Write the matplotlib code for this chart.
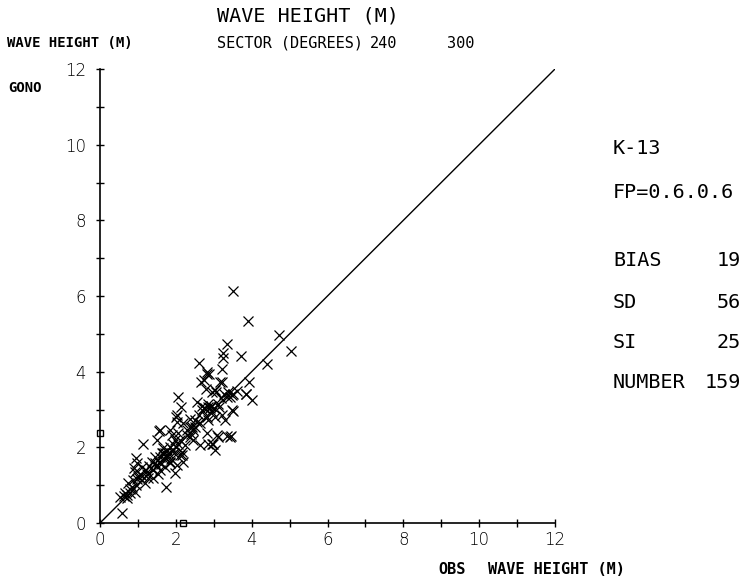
import matplotlib
matplotlib.use('Agg')
import matplotlib.pyplot as plt

# observed vs hindcast (GONO) wave height, sector 240-300 deg
obs = [3.51, 3.90, 4.71, 5.03, 4.40, 3.34, 3.24, 3.25, 3.72, 3.21,
       2.60, 2.82, 2.88, 2.66, 3.21, 3.93, 3.85, 4.01, 3.47, 3.06,
       2.80, 2.06, 2.13, 2.74, 2.90, 3.14, 3.50, 2.01, 3.30, 3.21,
       1.56, 1.14, 2.18, 2.37, 2.55, 2.82, 3.08, 3.34, 3.46, 3.03,
       2.86, 2.29, 2.37, 1.89, 1.93, 1.76, 1.63, 1.45, 0.94, 0.97,
       1.36, 1.85, 2.11, 2.64, 0.57, 0.53, 0.70, 0.79, 0.92, 0.75,
       0.88, 1.01, 0.92, 1.19, 1.27, 1.10, 1.41, 1.45, 1.58, 1.72,
       1.73, 1.98, 1.85, 1.93, 1.72, 1.67, 2.16, 2.07, 2.02, 2.42,
       2.51, 2.68, 2.95, 2.82, 2.20, 2.02, 2.45, 1.58, 3.52, 3.34,
       3.84, 3.03, 2.81, 2.73, 2.95, 3.17, 3.43, 3.47, 2.77, 2.86,
       2.95, 2.55, 2.02, 2.37, 2.64, 2.86, 3.03, 2.46, 1.85, 1.58,
       1.50, 1.98, 3.12, 3.43, 2.99, 1.85, 1.67, 2.16, 0.62, 0.66,
       0.72, 0.80, 0.85, 0.95, 0.98, 1.05, 1.12, 1.20, 1.25, 1.30,
       1.35, 1.50, 1.55, 1.62, 1.68, 1.78, 1.80, 1.88, 1.95, 2.00,
       2.05, 2.12, 2.25, 2.30, 2.40, 2.50, 2.60, 2.70, 2.85, 2.92,
       3.00, 3.10, 3.20, 3.28, 3.38, 3.60, 1.40, 1.52, 0.90]
gono = [6.12, 5.33, 4.96, 4.54, 4.20, 4.74, 4.49, 4.37, 4.42, 4.07,
        4.22, 3.95, 3.95, 3.73, 3.73, 3.73, 3.40, 3.25, 3.38, 3.46,
        3.55, 3.33, 3.07, 3.05, 3.03, 3.07, 2.96, 2.80, 2.72, 2.85,
        2.44, 2.08, 2.63, 2.54, 2.67, 2.80, 2.32, 2.30, 2.30, 1.93,
        2.10, 2.32, 2.28, 2.32, 2.10, 1.93, 1.84, 1.75, 1.71, 1.58,
        1.62, 1.58, 1.79, 2.06, 0.27, 0.69, 0.65, 0.78, 0.83, 1.05,
        1.13, 1.22, 1.35, 1.05, 1.18, 1.49, 1.40, 1.58, 1.40, 1.49,
        0.94, 1.31, 1.62, 1.93, 1.84, 1.97, 1.88, 2.37, 2.85, 2.54,
        2.72, 2.98, 2.10, 2.37, 1.62, 1.53, 2.20, 1.75, 3.40, 3.33,
        3.40, 3.51, 3.99, 3.77, 3.46, 3.73, 3.33, 2.98, 3.03, 3.07,
        2.94, 3.20, 2.67, 2.76, 2.63, 2.72, 2.80, 2.45, 2.45, 2.45,
        2.19, 2.19, 2.28, 2.28, 2.10, 2.01, 1.84, 1.79, 0.72, 0.80,
        0.75, 0.90, 0.95, 1.00, 1.15, 1.30, 1.25, 1.40, 1.30, 1.50,
        1.45, 1.50, 1.62, 1.55, 1.70, 1.75, 1.85, 1.70, 1.85, 2.00,
        2.10, 2.20, 2.05, 2.45, 2.35, 2.55, 2.85, 3.10, 3.15, 3.10,
        3.05, 3.15, 3.30, 3.40, 3.45, 3.50, 1.20, 1.30, 1.45]

mean_obs = 2.19
mean_gono = 2.37
ticks = list(range(0, 13))
tick_labels = [str(t) if t % 2 == 0 else '' for t in ticks]

stat_names = ['BIAS', 'SD', 'SI', 'NUMBER']
stat_values = ['19', '56', '25', '159']

W, H = 756, 584
fig = plt.figure(figsize=(W / 100, H / 100), dpi=100)
ax = fig.add_axes([100 / W, 61 / H, 455 / W, 454 / H])

ax.plot(obs, gono, 'x', color='black', markersize=6.5, markeredgewidth=0.9)
ax.plot([0, 12], [0, 12], color='black', linewidth=1.0)
ax.plot([0], [mean_gono], 's', mfc='white', mec='black', markersize=5, clip_on=False)
ax.plot([mean_obs], [0], 's', mfc='white', mec='black', markersize=5, clip_on=False)

ax.set_xlim(0, 12)
ax.set_ylim(0, 12)
for s in ['top', 'right']:
    ax.spines[s].set_visible(False)
for s in ['left', 'bottom']:
    ax.spines[s].set_linewidth(1.2)
ax.set_xticks(ticks)
ax.set_yticks(ticks)
ax.set_xticklabels(tick_labels)
ax.set_yticklabels(tick_labels)
ax.tick_params(axis='both', direction='inout', length=6, width=1.0,
               labelsize=12, colors='black')
ax.tick_params(axis='x', pad=3)
ax.tick_params(axis='y', pad=7)
for lab in ax.get_xticklabels() + ax.get_yticklabels():
    lab.set_fontweight('light')


def put(x, y, s, size, weight='normal'):
    fig.text(x / W, 1 - y / H, s, fontsize=size, fontweight=weight,
             family='DejaVu Sans Mono', ha='left', va='center')


put(217, 16, 'WAVE HEIGHT (M)', 14.5)
put(7, 43, 'WAVE HEIGHT (M)', 10, 'bold')
put(217, 43, 'SECTOR (DEGREES)', 11)
put(370, 43, '240', 11)
put(447, 43, '300', 11)
put(8, 88, 'GONO', 10, 'bold')
put(438, 570, 'OBS', 11, 'bold')
put(488, 570, 'WAVE HEIGHT (M)', 11, 'bold')

put(613, 148, 'K-13', 14.5)
put(613, 192, 'FP=0.6.0.6', 14.5)
rows_y = [260, 302, 342, 382]
for name, val, yy in zip(stat_names, stat_values, rows_y):
    put(613, yy, name, 14.5)
    put(705 if name == 'NUMBER' else 717, yy, val, 14.5)

fig.savefig('out.png', dpi=100)
